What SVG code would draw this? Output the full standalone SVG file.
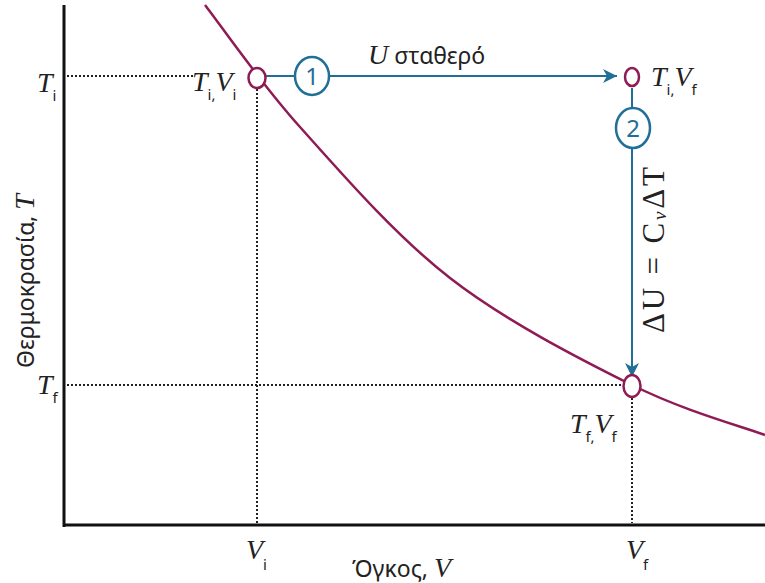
<svg xmlns="http://www.w3.org/2000/svg" width="765" height="583" viewBox="0 0 765 583">
<style>
.ax{stroke:#111;stroke-width:3;fill:none}
.dot{stroke:#222;stroke-width:2;stroke-dasharray:2 2;fill:none}
.curve{stroke:#8e1b55;stroke-width:2.5;fill:none}
.state{stroke:#8e1b55;stroke-width:2.5;fill:#fff}
.flow{stroke:#1f6f96;stroke-width:2;fill:none}
.step{stroke:#1f6f96;stroke-width:2.5;fill:#fff}
.num{font-family:"Noto Sans","Open Sans",sans-serif;font-size:24px;fill:#1f6f96;text-anchor:middle}
text{fill:#222}
.it{font-family:"Liberation Serif",serif;font-style:italic;font-size:28px}
.sub{font-family:"Noto Sans","Open Sans",sans-serif;font-size:15px}
.gr{font-family:"Noto Sans","Open Sans",sans-serif;font-size:23px}
.sr{font-family:"Liberation Serif",serif;font-size:31px}
</style>
<defs>
<marker id="ah" viewBox="0 0 14 14" refX="14" refY="7" markerWidth="14" markerHeight="14" markerUnits="userSpaceOnUse" orient="auto">
<path d="M0,0 L14,7 L0,14 L4,7 Z" fill="#1f6f96"/>
</marker>
</defs>
<g id="axes">
<line class="ax" x1="64" y1="5" x2="64" y2="527"/>
<line class="ax" x1="63" y1="525" x2="765" y2="525"/>
</g>
<g id="guides">
<line class="dot" x1="67" y1="76" x2="193" y2="76"/>
<line class="dot" x1="257" y1="89" x2="257" y2="523"/>
<line class="dot" x1="67" y1="385" x2="622" y2="385"/>
<line class="dot" x1="632" y1="398" x2="632" y2="523"/>
</g>
<g id="isotherm">
<path class="curve" d="M205,5 C220.8,25.3 259.2,81.5 300,127 C340.8,172.5 394.7,235 450,278 C505.3,321 579.5,358.8 632,385 C684.5,411.2 742.8,426.7 765,435"/>
</g>
<g id="connectors">
<line class="flow" x1="265" y1="76" x2="617" y2="76" marker-end="url(#ah)"/>
<line class="flow" x1="632" y1="88" x2="632" y2="377" marker-end="url(#ah)"/>
</g>
<g id="step1">
<ellipse class="step" cx="312" cy="76" rx="17" ry="19"/>
<text class="num" x="312" y="85">1</text>
</g>
<g id="step2">
<ellipse class="step" cx="633" cy="128" rx="17" ry="20"/>
<text class="num" x="633" y="137">2</text>
</g>
<g id="state-i">
<ellipse class="state" cx="257" cy="78" rx="8.5" ry="10"/>
<text x="192" y="91"><tspan class="it">T</tspan><tspan class="sub" dy="9">i</tspan><tspan class="sub">,</tspan><tspan class="it" dy="-9">V</tspan><tspan class="sub" dy="9">i</tspan></text>
</g>
<g id="state-mid">
<ellipse class="state" cx="632" cy="77" rx="7" ry="9"/>
<text x="651" y="86"><tspan class="it">T</tspan><tspan class="sub" dy="9">i</tspan><tspan class="sub">,</tspan><tspan class="it" dy="-9">V</tspan><tspan class="sub" dy="9">f</tspan></text>
</g>
<g id="state-f">
<ellipse class="state" cx="632" cy="386" rx="8.5" ry="11"/>
<text x="570" y="433"><tspan class="it">T</tspan><tspan class="sub" dy="9">f</tspan><tspan class="sub">,</tspan><tspan class="it" dy="-9">V</tspan><tspan class="sub" dy="9">f</tspan></text>
</g>
<g id="labels">
<text x="368" y="64"><tspan class="it">U</tspan><tspan class="gr" font-size="24"> σταθερό</tspan></text>
<text class="sr" transform="translate(664,333) rotate(-90)" textLength="166" lengthAdjust="spacing">ΔU = C<tspan font-style="italic" font-size="19" dy="2">v</tspan><tspan dy="-2">ΔT</tspan></text>
<text x="37" y="92"><tspan class="it">T</tspan><tspan class="sub" dy="9">i</tspan></text>
<text x="37" y="394"><tspan class="it">T</tspan><tspan class="sub" dy="9">f</tspan></text>
<text x="246" y="559"><tspan class="it">V</tspan><tspan class="sub" dy="11">i</tspan></text>
<text x="626" y="559"><tspan class="it">V</tspan><tspan class="sub" dy="11">f</tspan></text>
<text x="352" y="577"><tspan class="gr" font-size="21">Όγκος, </tspan><tspan class="it" font-size="25">V</tspan></text>
<text transform="translate(34,368) rotate(-90)"><tspan class="gr">Θερμοκρασία, </tspan><tspan class="it">T</tspan></text>
</g>
</svg>
